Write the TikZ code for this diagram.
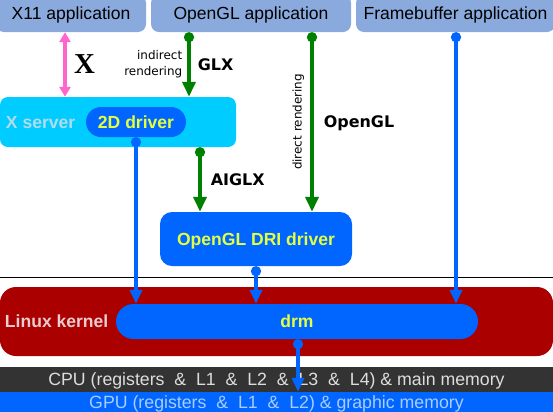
\documentclass[tikz,border=0pt]{standalone}
\usepackage{fontspec}
\setmainfont{Liberation Sans}
\newfontfamily\vera{DejaVu Sans}
\newfontfamily\romanx{Liberation Serif}
\usetikzlibrary{arrows.meta}
\usetikzlibrary{positioning}

\definecolor{appblue}{RGB}{138,170,221}
\definecolor{xcyan}{RGB}{0,204,255}
\definecolor{xgray}{RGB}{176,220,236}
\definecolor{drvblue}{RGB}{0,102,255}
\definecolor{drvtext}{RGB}{228,255,64}
\definecolor{kernred}{RGB}{170,0,0}
\definecolor{kerntext}{RGB}{236,204,204}
\definecolor{cpugray}{RGB}{51,51,51}
\definecolor{cputext}{RGB}{221,221,221}
\definecolor{gputext}{RGB}{170,204,255}
\definecolor{glgreen}{RGB}{0,128,0}
\definecolor{xpink}{RGB}{255,102,204}

\newcommand{\appfont}{\fontsize{17.6}{21}\selectfont}
\newcommand{\barfont}{\fontsize{17.8}{21}\selectfont}

\begin{document}
\begin{tikzpicture}[x=1bp, y=-1bp,
    box/.style={rectangle, inner sep=0pt, text height=12.6bp, text depth=0pt, font=\appfont},
    app/.style={box, fill=appblue, rounded corners=8bp, minimum height=37bp},
    pill/.style={box, fill=drvblue, text=drvtext, font=\bfseries\appfont},
    lbl/.style={inner sep=0pt, text depth=0pt, text=black, font=\vera\bfseries\fontsize{16}{19}\selectfont},
    note/.style={inner sep=0pt, text=black, font=\vera\fontsize{12}{16}\selectfont},
    glarrow/.style={glgreen, line width=3.6bp, {Circle[length=10bp]}-{Triangle[length=15bp,width=13bp]}},
    blarrow/.style={drvblue, line width=4bp, {Circle[length=10bp]}-{Triangle[length=14bp,width=12bp]}},
    xarrow/.style={xpink, line width=4bp, {Triangle[length=10bp,width=11bp]}-{Triangle[length=10bp,width=11bp]}}]
        \useasboundingbox (0,0) rectangle (553,411);
        \clip (0,0) rectangle (553,411);

        % applications
        \node[app, minimum width=150bp] (x11app) at (71,13.5) {X11 application};
        \node[app, minimum width=200bp] (oglapp) at (251,13.5) {OpenGL application};
        \node[app, minimum width=199bp] (fbapp) at (455.5,13.5) {Framebuffer application};

        % X server
        \node[box, fill=xcyan, rounded corners=8bp, minimum width=236bp, minimum height=50bp] (xserver) at (118,122) {};
        \node[box, text=xgray, font=\bfseries\appfont, right=6bp of xserver.west] (xlabel) {X server};
        \node[pill, rounded corners=15bp, minimum width=100bp, minimum height=30bp] (drv2d) at (136,122) {2D driver};

        \node[pill, rounded corners=12bp, minimum width=192bp, minimum height=54bp] (dri) at (256,239) {OpenGL DRI driver};

        % kernel
        \coordinate (lineL) at (0,277);
        \coordinate (lineR) at (553,277);
        \draw[line width=1bp] (lineL) -- (lineR);
        \node[box, fill=kernred, rounded corners=16bp, minimum width=553bp, minimum height=69bp] (kernel) at (276.5,321.5) {};
        \node[box, text=kerntext, font=\bfseries\appfont, right=5bp of kernel.west] (klabel) {Linux kernel};
        \node[pill, rounded corners=17.5bp, minimum width=362bp, minimum height=35bp] (drm) at (297,321.5) {drm};

        % hardware
        \node[box, fill=cpugray, text=cputext, font=\barfont, minimum width=553bp, minimum height=25bp] (cpu) at (276.5,379.5)
            {CPU (registers\ \ \&\ \ L1\ \ \&\ \ L2\ \ \&\ \ L3\ \ \&\ \ L4) \& main memory};
        \node[box, fill=drvblue, text=gputext, font=\barfont, minimum width=553bp, minimum height=20bp] (gpu) at (276.5,402)
            {GPU (registers\ \ \&\ \ L1\ \ \&\ \ L2) \& graphic memory};

        % channels
        \coordinate (chX) at (65,0);
        \coordinate (chGLX) at (189,0);
        \coordinate (chAIGLX) at (200,0);
        \coordinate (chDirect) at (312,0);
        \coordinate (chFB) at (456,0);
        \coordinate (ch2D) at (136,0);
        \coordinate (chGPU) at (298,0);

        \draw[xarrow] (x11app.south -| chX) -- node[inner sep=0pt, text depth=0pt, text=black, right=7bp, font=\romanx\bfseries\fontsize{29}{30}\selectfont] (xlbl) {X} (xserver.north -| chX);
        \draw[glarrow] (oglapp.south -| chGLX) -- node[lbl, right=7bp] (glxlbl) {GLX}
            node[note, left=5bp, align=right] (indlbl) {indirect\\rendering} (xserver.north -| chGLX);
        \draw[glarrow] (xserver.south -| chAIGLX) -- node[lbl, right=9bp] (aiglxlbl) {AIGLX} (dri.north -| chAIGLX);
        \draw[glarrow] (oglapp.south -| chDirect) -- node[lbl, right=10bp] (ogllbl) {OpenGL}
            node[note, rotate=90, anchor=south, inner sep=6bp] (dirlbl) {direct rendering} (dri.north -| chDirect);

        \draw[blarrow] (drv2d.south -| ch2D) -- (drm.north -| ch2D);
        \draw[blarrow] (dri.south) -- (drm.north -| dri.south);
        \draw[blarrow] (fbapp.south -| chFB) -- (drm.north -| chFB);
        \draw[blarrow] (drm.south -| chGPU) -- (gpu.north -| chGPU);
\end{tikzpicture}
\end{document}
